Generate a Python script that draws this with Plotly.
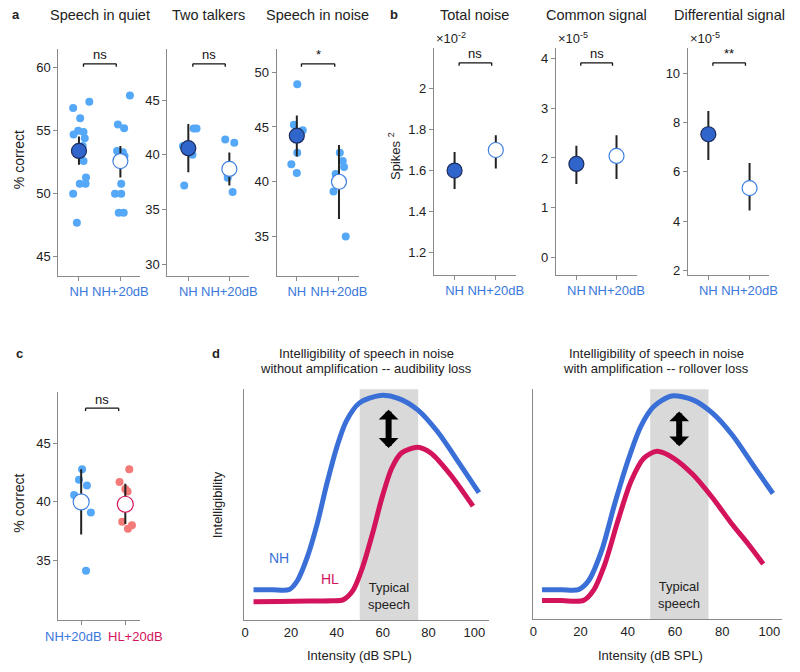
import plotly.graph_objects as go

# ---------------- DATA ----------------
groups = ["NH", "NH+20dB"]
groups_c = ["NH+20dB", "HL+20dB"]

# Panel a: Speech in quiet
quiet_nh = [56.8, 57.3, 56.0, 54.7, 55.0, 54.9, 54.4, 53.8, 52.6, 51.3, 50.8, 50.8, 50.0, 47.7]
quiet_nh_jit = [-0.14, 0.25, 0.03, -0.13, -0.02, 0.11, 0.14, 0.09, 0.11, 0.17, 0.02, 0.16, -0.14, -0.05]
quiet_amp = [57.8, 55.5, 55.2, 53.4, 53.3, 53.0, 50.8, 50.0, 50.0, 48.5, 48.5]
quiet_amp_jit = [0.23, -0.06, 0.09, -0.08, 0.06, 0.10, 0.02, -0.13, 0.02, -0.04, 0.08]
quiet_mean = [53.4, 52.6]
quiet_hi = [54.55, 53.8]
quiet_lo = [52.3, 51.3]

# Panel a: Two talkers
talk_nh = [40.8, 42.4, 42.4, 37.2, 40.0]
talk_nh_jit = [-0.13, 0.13, 0.20, -0.10, 0.10]
talk_amp = [41.4, 41.1, 37.9, 36.6]
talk_amp_jit = [-0.10, 0.12, -0.04, 0.08]
talk_mean = [40.6, 38.7]
talk_hi = [42.8, 40.2]
talk_lo = [38.4, 37.2]

# Panel a: Speech in noise
noise_nh = [48.9, 45.2, 44.7, 42.65, 41.6, 40.8]
noise_nh_jit = [0.01, -0.07, 0.14, 0.01, -0.13, 0.0]
noise_amp = [42.65, 41.9, 41.35, 40.7, 39.1, 35.0]
noise_amp_jit = [0.02, 0.09, 0.12, -0.08, -0.13, 0.16]
noise_mean = [44.2, 40.0]
noise_hi = [46.05, 43.35]
noise_lo = [42.3, 36.6]

# Panel b (scaled units as displayed)
total_mean = [1.60, 1.70]
total_hi = [1.69, 1.772]
total_lo = [1.51, 1.61]
common_mean = [1.88, 2.04]
common_hi = [2.245, 2.46]
common_lo = [1.475, 1.575]
diff_mean = [7.53, 5.34]
diff_hi = [8.47, 6.36]
diff_lo = [6.48, 4.43]

# Panel c
c_amp = [42.8, 41.9, 41.4, 40.6, 39.1, 34.1]
c_amp_jit = [0.02, -0.05, 0.13, -0.16, 0.22, 0.11]
c_hl = [42.8, 41.7, 41.1, 40.9, 38.3, 37.7, 38.0]
c_hl_jit = [0.09, -0.13, 0.0, 0.05, -0.07, 0.06, 0.15]
c_mean = [40.0, 39.8]
c_hi = [42.8, 41.55]
c_lo = [37.2, 38.1]

# Panel d (schematic curves)
dL_nh_x = [3.7, 12.0, 19.3, 22.8, 27.1, 31.4, 35.6, 39.9, 44.1, 49.8, 59.0, 66.8, 75.3, 83.8, 93.8, 102.0]
dL_nh_y = [0.132, 0.132, 0.133, 0.171, 0.272, 0.415, 0.588, 0.746, 0.861, 0.940, 0.973, 0.961, 0.911, 0.818, 0.674, 0.552]
dL_hl_x = [3.7, 15.0, 28.0, 38.0, 42.7, 47.0, 51.2, 55.5, 59.7, 64.0, 68.2, 75.3, 81.0, 89.5, 99.4]
dL_hl_y = [0.080, 0.081, 0.083, 0.084, 0.088, 0.128, 0.228, 0.372, 0.530, 0.659, 0.724, 0.749, 0.724, 0.631, 0.494]
dR_nh_x = [3.7, 12.0, 19.2, 23.4, 28.9, 34.4, 40.0, 45.5, 51.0, 58.6, 67.6, 75.9, 84.2, 93.9, 101.5]
dR_nh_y = [0.128, 0.128, 0.129, 0.167, 0.297, 0.499, 0.687, 0.838, 0.925, 0.971, 0.954, 0.896, 0.802, 0.658, 0.547]
dR_hl_x = [3.7, 12.0, 21.3, 25.4, 30.3, 35.8, 41.4, 46.9, 52.4, 59.3, 67.6, 75.9, 84.2, 91.1, 97.4]
dR_hl_y = [0.081, 0.081, 0.082, 0.124, 0.240, 0.427, 0.600, 0.701, 0.730, 0.701, 0.629, 0.528, 0.413, 0.326, 0.240]
speech_band_L = [50, 75.5]
speech_band_R = [49.5, 74.2]
intensity_ticks = [0, 20, 40, 60, 80, 100]

# ---------------- STYLE ----------------
OFF = 8  # the page body has an 8px default margin; compensate so the picture lands where intended
W, H = 800 - OFF, 672 - OFF
FONT = "Liberation Sans, Arial, Helvetica, sans-serif"
AX = "#8a8a8a"
PT_BLUE = "#55a8f7"
MEAN_BLUE = "#3065cc"
MEAN_EDGE = "#1c2d5e"
OPEN_BLUE = "#3f80e0"
LBL_BLUE = "#3a78dc"
CRIMSON = "#d3145c"
SALMON = "#f47a78"
CURVE_BLUE = "#3a6fd8"


def px(x):
    return (x - OFF) / W


def py(y):
    return 1 - (y - OFF) / H


def xd(p0, p1):
    return [px(p0), px(p1)]


def yd(p0, p1):
    return [py(p1), py(p0)]


fig = go.Figure()
layout = dict(
    width=W, height=H, margin=dict(l=0, r=0, t=0, b=0),
    paper_bgcolor="white", plot_bgcolor="white",
    font=dict(family=FONT, size=13, color="#222"),
    showlegend=False,
)
annotations = []
shapes = []

# panel geometry (pixels in the 800x672 picture): (x0, x1, y0, y1)
panels = {
    1: (55, 138, 49, 277),
    2: (166, 249, 49, 277),
    3: (277, 361, 49, 277),
    4: (437, 520, 48, 276),
    5: (561, 643, 48, 276),
    6: (695, 778, 48, 276),
    7: (55, 138, 394, 623),
    8: (244, 493, 391, 623),
    9: (538, 791, 391, 622),
}

yranges = {1: [43.5, 61.5], 2: [28.94, 49.68], 3: [31.42, 52.13], 4: [1.093, 2.197],
           5: [-0.355, 4.22], 6: [1.82, 11.04], 7: [29.87, 49.39], 8: [0, 1], 9: [0, 1]}
xranges = {1: [0.5, 2.47], 2: [0.49, 2.48], 3: [0.52, 2.48], 4: [0.5, 2.48],
           5: [0.49, 2.5], 6: [0.5, 2.48], 7: [0.48, 2.33], 8: [-0.4, 106.4], 9: [0.0, 105.4]}
ytick = {1: [45, 50, 55, 60], 2: [30, 35, 40, 45], 3: [35, 40, 45, 50],
         4: [1.2, 1.4, 1.6, 1.8, 2.0], 5: [0, 1, 2, 3, 4], 6: [2, 4, 6, 8, 10], 7: [35, 40, 45]}

for k, (x0, x1, y0, y1) in panels.items():
    sx = "" if k == 1 else str(k)
    xa = dict(domain=xd(x0, x1), range=xranges[k], anchor="y" + sx, showline=True,
              linecolor=AX, linewidth=1, showgrid=False, zeroline=False, fixedrange=True,
              tickangle=0)
    ya = dict(domain=yd(y0, y1), range=yranges[k], anchor="x" + sx, showline=True,
              linecolor=AX, linewidth=1, showgrid=False, zeroline=False, fixedrange=True)
    if k <= 7:
        xa.update(tickvals=[1, 2], ticks="outside", ticklen=4, tickcolor=AX,
                  tickfont=dict(size=13, color=LBL_BLUE))
        if k == 7:
            xa["showticklabels"] = False
        else:
            xa["ticktext"] = groups
        ya.update(tickvals=ytick[k], ticks="outside", ticklen=4, tickcolor=AX,
                  tickfont=dict(size=13, color="#222"))
        if k == 4:
            ya["ticktext"] = ["1.2", "1.4", "1.6", "1.8", "2"]
    else:
        xa.update(tickvals=intensity_ticks, ticks="", tickfont=dict(size=13, color="#222"))
        ya.update(showticklabels=False, ticks="")
    layout["xaxis" + sx] = xa
    layout["yaxis" + sx] = ya


def axn(k):
    return ("x", "y") if k == 1 else ("x" + str(k), "y" + str(k))


def add_points(k, vals, jit, cat, color):
    xr, yr = axn(k)
    fig.add_trace(go.Scatter(x=[cat + j for j in jit], y=vals, mode="markers", xaxis=xr, yaxis=yr,
                             marker=dict(size=8, color=color, line=dict(width=0)),
                             hoverinfo="skip"))


def add_mean(k, cat, m, hi, lo, fill, edge, size=15):
    xr, yr = axn(k)
    fig.add_trace(go.Scatter(x=[cat], y=[m], mode="markers", xaxis=xr, yaxis=yr,
                             error_y=dict(type="data", symmetric=False, array=[hi - m],
                                          arrayminus=[m - lo], width=0, thickness=2, color="#222"),
                             marker=dict(size=size, color=fill, line=dict(width=1.2, color=edge)),
                             hoverinfo="skip"))


def bracket(k, xa0, xa1, label, ytop=0.934, tick=0.013, tl=0.975):
    xr, yr = axn(k)
    ydom = yr + " domain"
    for (a, b, c, d) in [(xa0, ytop, xa1, ytop), (xa0, ytop, xa0, ytop - tick), (xa1, ytop, xa1, ytop - tick)]:
        shapes.append(dict(type="line", xref=xr, yref=ydom, x0=a, y0=b, x1=c, y1=d,
                           line=dict(color="#111", width=1.3)))
    annotations.append(dict(text=label, xref=xr, yref=ydom, x=(xa0 + xa1) / 2, y=tl, showarrow=False,
                            font=dict(size=13, color="#111"), yanchor="middle"))


# Panel a
for k, (nh, nhj, amp, ampj, mean, hi, lo) in {
    1: (quiet_nh, quiet_nh_jit, quiet_amp, quiet_amp_jit, quiet_mean, quiet_hi, quiet_lo),
    2: (talk_nh, talk_nh_jit, talk_amp, talk_amp_jit, talk_mean, talk_hi, talk_lo),
    3: (noise_nh, noise_nh_jit, noise_amp, noise_amp_jit, noise_mean, noise_hi, noise_lo),
}.items():
    add_points(k, nh, nhj, 1, PT_BLUE)
    add_points(k, amp, ampj, 2, PT_BLUE)
    add_mean(k, 1, mean[0], hi[0], lo[0], MEAN_BLUE, MEAN_EDGE)
    add_mean(k, 2, mean[1], hi[1], lo[1], "white", OPEN_BLUE)

bracket(1, 1.11, 1.9, "ns")
bracket(2, 1.11, 1.9, "ns")
bracket(3, 1.11, 1.9, "*")

# Panel b
for k, (mean, hi, lo) in {4: (total_mean, total_hi, total_lo), 5: (common_mean, common_hi, common_lo),
                           6: (diff_mean, diff_hi, diff_lo)}.items():
    add_mean(k, 1, mean[0], hi[0], lo[0], MEAN_BLUE, MEAN_EDGE)
    add_mean(k, 2, mean[1], hi[1], lo[1], "white", OPEN_BLUE)
bracket(4, 1.11, 1.9, "ns")
bracket(5, 1.11, 1.9, "ns")
bracket(6, 1.11, 1.9, "**")

# Panel c
add_points(7, c_amp, c_amp_jit, 1, PT_BLUE)
add_points(7, c_hl, c_hl_jit, 2, SALMON)
add_mean(7, 1, c_mean[0], c_hi[0], c_lo[0], "white", OPEN_BLUE, size=16)
add_mean(7, 2, c_mean[1], c_hi[1], c_lo[1], "white", CRIMSON, size=16)
bracket(7, 1.1, 1.85, "ns", ytop=0.93, tick=0.012, tl=0.97)

# Panel d
for k, band, curves in [(8, speech_band_L, [(dL_nh_x, dL_nh_y, CURVE_BLUE), (dL_hl_x, dL_hl_y, CRIMSON)]),
                        (9, speech_band_R, [(dR_nh_x, dR_nh_y, CURVE_BLUE), (dR_hl_x, dR_hl_y, CRIMSON)])]:
    xr, yr = axn(k)
    shapes.append(dict(type="rect", xref=xr, yref=yr + " domain", x0=band[0], x1=band[1], y0=0, y1=1,
                       fillcolor="#d9d9d9", line=dict(width=0), layer="below"))
    for cx, cy, col in curves:
        fig.add_trace(go.Scatter(x=cx, y=cy, mode="lines", xaxis=xr, yaxis=yr,
                                 line=dict(color=col, width=5, shape="spline", smoothing=0.8),
                                 hoverinfo="skip"))
    ax_x = 62.6 if k == 8 else 61.8
    annotations.append(dict(x=ax_x, y=0.746 if k == 8 else 0.752, ax=ax_x, ay=0.918 if k == 8 else 0.91,
                            xref=xr, yref=yr, axref=xr, ayref=yr, text="", showarrow=True,
                            arrowhead=1, startarrowhead=1, arrowside="end+start",
                            arrowwidth=6, arrowsize=0.55, startarrowsize=0.55, arrowcolor="black"))
    annotations.append(dict(x=(band[0] + band[1]) / 2, y=0.105, xref=xr, yref=yr, text="Typical<br>speech",
                            showarrow=False, font=dict(size=13, color="#222")))

annotations.append(dict(x=15, y=0.27, xref="x8", yref="y8", text="NH", showarrow=False,
                        font=dict(size=14, color=CURVE_BLUE)))
annotations.append(dict(x=37, y=0.178, xref="x8", yref="y8", text="HL", showarrow=False,
                        font=dict(size=14, color=CRIMSON)))


# ---- text in pixel positions ----
def ptext(x, y, text, size=13, bold=False, xanchor="center", color="#222", angle=0):
    annotations.append(dict(x=px(x), y=py(y), xref="paper", yref="paper",
                            text=("<b>%s</b>" % text) if bold else text,
                            showarrow=False, xanchor=xanchor, yanchor="middle", textangle=angle,
                            font=dict(size=size, color=color)))


ptext(12, 15, "a", 13, bold=True)
ptext(396, 15, "b", 13, bold=True)
ptext(16, 355, "c", 13, bold=True)
ptext(215, 355, "d", 13, bold=True)

ptext(97, 15, "Speech in quiet", 14.5)
ptext(208, 15, "Two talkers", 14.5)
ptext(319, 15, "Speech in noise", 14.5)
ptext(478, 15, "Total noise", 14.5)
ptext(602, 15, "Common signal", 14.5)
ptext(737, 15, "Differential signal", 14.5)

ptext(437, 38, "\u00d710<sup>-2</sup>", 13, xanchor="left")
ptext(561, 38, "\u00d710<sup>-5</sup>", 13, xanchor="left")
ptext(695, 38, "\u00d710<sup>-5</sup>", 13, xanchor="left")

ptext(15, 160, "% correct", 14, angle=-90)
ptext(397, 157, "Spikes <sup>2</sup>", 13, angle=-90)
ptext(15, 505, "% correct", 14, angle=-90)
ptext(217, 507, "Intelligibility", 13, angle=-90)

# panel c category labels (placed as in the picture)
ptext(70.5, 639, groups_c[0], 13, color=LBL_BLUE)
ptext(133.5, 639, groups_c[1], 13, color=CRIMSON)

ptext(368, 355, "Intelligibility of speech in noise", 13)
ptext(368, 370, "without amplification -- audibility loss", 13)
ptext(663, 355, "Intelligibility of speech in noise", 13)
ptext(663, 370, "with amplification -- rollover loss", 13)

ptext(361, 658, "Intensity (dB SPL)", 13)
ptext(657, 658, "Intensity (dB SPL)", 13)

layout["annotations"] = annotations
layout["shapes"] = shapes
fig.update_layout(**layout)
fig.write_html("out.html")
